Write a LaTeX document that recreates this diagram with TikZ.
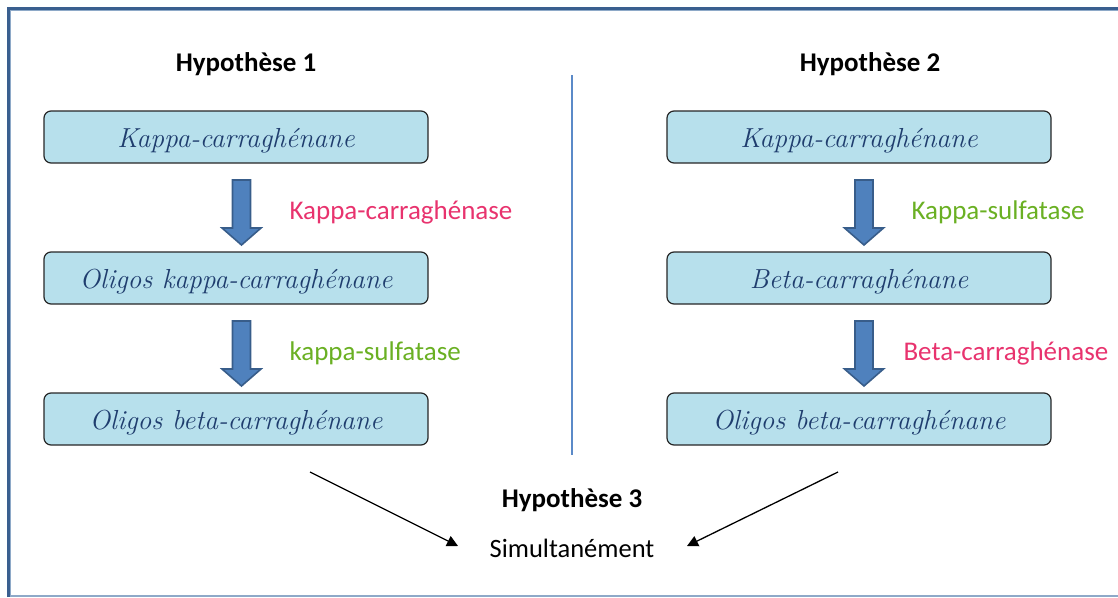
\documentclass[tikz,border=0pt]{standalone}
\usepackage{fontspec}
\setsansfont{Carlito}
\usetikzlibrary{calc,arrows.meta}
\definecolor{framec}{HTML}{3A5F8F}
\definecolor{framelt}{HTML}{8EA9C8}
\definecolor{boxfill}{HTML}{B7E0EC}
\definecolor{boxtext}{HTML}{1F3D6E}
\definecolor{arrfill}{HTML}{4F81BD}
\definecolor{arrdraw}{HTML}{385D8A}
\definecolor{divc}{HTML}{5B8AC8}
\definecolor{pinkc}{HTML}{E8336E}
\definecolor{greenc}{HTML}{6AB023}
\begin{document}
\begin{tikzpicture}[x=1pt,y=-1pt,
  sbox/.style={draw=black!85,line width=1.2pt,fill=boxfill,rounded corners=7pt,
    minimum width=384pt,minimum height=52pt,inner sep=0pt,
    text height=20pt,text depth=0pt,
    font=\fontsize{27.5}{30}\selectfont\itshape,text=boxtext},
  head/.style={font=\sffamily\bfseries\fontsize{27}{30}\selectfont},
  enz/.style={font=\sffamily\fontsize{27}{30}\selectfont,anchor=west},
  barrow/.style={fill=arrfill,draw=arrdraw,line width=1.6pt,line join=miter},
  thin/.style={line width=1.3pt,-{Triangle[length=11pt,width=11pt]}}]
\useasboundingbox (0,0) rectangle (1118,597);
% frame
\draw[framelt,line width=1.2pt] (7,596) -- (1118,596);
\draw[framelt,line width=1pt] (10.5,597) -- (10.5,10.5) -- (1118,10.5);
\draw[framec,line width=3pt] (8.5,597) -- (8.5,8.5) -- (1118,8.5);
% divider
\draw[divc,line width=1.6pt] (572,75) -- (572,455);
% headings
\node[head] (h1) at (246,64) {Hypothèse 1};
\node[head] (h2) at (870,64) {Hypothèse 2};
\node[head] (h3) at (572,500) {Hypothèse 3};
\node[font=\sffamily\fontsize{26.5}{30}\selectfont] (sim) at (572,548) {Simultanément};
% left column
\node[sbox] (a1) at (236,137) {Kappa-carraghénane};
\node[sbox] (a2) at (236,278) {Oligos kappa-carraghénane};
\node[sbox] (a3) at (236,419) {Oligos beta-carraghénane};
% right column
\node[sbox] (b1) at (859,137) {Kappa-carraghénane};
\node[sbox] (b2) at (859,278) {Beta-carraghénane};
\node[sbox] (b3) at (859,419) {Oligos beta-carraghénane};
% block arrows
\foreach \cx/\ty in {241.5/180, 241.5/321, 864/180, 864/321}{
  \draw[barrow] (\cx-9,\ty) -- (\cx+9,\ty) -- (\cx+9,\ty+48) -- (\cx+19.5,\ty+48)
     -- (\cx,\ty+65) -- (\cx-19.5,\ty+48) -- (\cx-9,\ty+48) -- cycle;
}
% enzyme labels
\node[enz,text=pinkc] (e1) at (286,212) {Kappa-carraghénase};
\node[enz,text=greenc] (e2) at (286,353) {kappa-sulfatase};
\node[enz,text=greenc] (e3) at (908,212) {Kappa-sulfatase};
\node[enz,text=pinkc] (e4) at (900,353) {Beta-carraghénase};
% convergence arrows
\coordinate (s1) at (310,472);
\coordinate (t1) at (458,546);
\coordinate (s2) at (838,472);
\coordinate (t2) at (687,546);
\draw[thin] (s1) -- (t1);
\draw[thin] (s2) -- (t2);
\end{tikzpicture}
\end{document}
